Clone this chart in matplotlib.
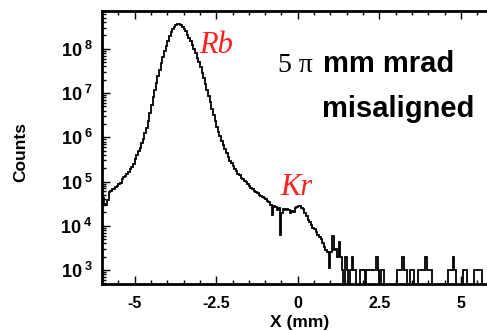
import numpy as np
import matplotlib
matplotlib.use("Agg")
import matplotlib.pyplot as plt
from matplotlib.ticker import FixedLocator, FuncFormatter, LogLocator, MultipleLocator

# histogram: first bin edge and bin width (mm)
x_lo = -6.0
x_step = 0.05
nan = float("nan")
# log10(counts) per bin, one row per mm (nan = empty bin)
log_counts = [
    # -6 .. -5
    4.62, 4.50, 4.47, 4.58, 4.76, 4.78, 4.82, 4.84, 4.87, 4.90,
    4.95, 4.97, 5.05, 5.10, 5.12, 5.18, 5.22, 5.28, 5.33, 5.40,
    # -5 .. -4
    5.50, 5.59, 5.68, 5.76, 5.87, 5.97, 6.09, 6.22, 6.37, 6.55,
    6.73, 6.90, 7.06, 7.22, 7.38, 7.53, 7.67, 7.81, 7.95, 8.07,
    # -4 .. -3
    8.18, 8.28, 8.37, 8.44, 8.50, 8.54, 8.56, 8.56, 8.53, 8.50,
    8.45, 8.39, 8.32, 8.25, 8.17, 8.09, 8.00, 7.90, 7.80, 7.69,
    # -3 .. -2
    7.58, 7.46, 7.33, 7.20, 7.07, 6.93, 6.79, 6.64, 6.50, 6.36,
    6.23, 6.12, 6.02, 5.92, 5.82, 5.73, 5.64, 5.55, 5.47, 5.41,
    # -2 .. -1
    5.35, 5.29, 5.23, 5.18, 5.14, 5.09, 5.05, 5.01, 4.98, 4.95,
    4.91, 4.86, 4.82, 4.79, 4.76, 4.73, 4.70, 4.68, 4.65, 4.62,
    # -1 .. 0
    4.60, 4.56, 4.53, 4.48, 4.25, 4.45, 4.42, 4.36, 4.40, 3.80,
    4.30, 4.38, 4.35, 4.38, 4.36, 4.30, 4.34, 4.32, 4.40, 4.42,
    # 0 .. 1
    4.45, 4.44, 4.40, 4.38, 4.30, 4.22, 4.12, 4.08, 4.02, 3.96,
    3.92, 3.85, 3.80, 3.74, 3.70, 3.62, 3.52, 3.46, 3.40, 3.05,
    # 1 .. 2
    3.40, 3.76, 3.45, 3.47, 3.30, 3.63, 3.30, 3.00, nan, 3.30,
    3.00, nan, 3.00, 3.30, 3.00, 3.00, nan, nan, 3.00, 3.00,
    # 2 .. 3
    3.00, nan, 3.00, 3.00, 3.00, 3.00, 3.00, 3.00, 3.30, 3.00,
    nan, 3.00, 3.00, nan, nan, nan, nan, nan, nan, nan,
    # 3 .. 4
    nan, 3.00, 3.00, 3.00, 3.30, 3.00, 3.00, nan, nan, 3.00,
    3.00, nan, nan, nan, 3.00, 3.00, 3.00, 3.00, 3.30, 3.00,
    # 4 .. 5
    3.00, 3.00, nan, nan, nan, nan, nan, nan, nan, nan,
    nan, nan, 3.00, 3.00, 3.00, 3.30, 3.00, nan, nan, nan,
    # 5 .. 5.8
    nan, 3.00, 3.00, 3.00, nan, nan, nan, nan, 3.00, 3.00,
    3.00, 3.00, 3.00, nan, nan, nan,
]
x_ticks = [-5, -2.5, 0, 2.5, 5]
x_ticklabels = ["-5", "-2.5", "0", "2.5", "5"]
y_exponents = [3, 4, 5, 6, 7, 8]

plt.rcParams["font.family"] = ["Liberation Sans", "DejaVu Sans"]
plt.rcParams["mathtext.fontset"] = "custom"
plt.rcParams["mathtext.rm"] = "Liberation Sans"
plt.rcParams["mathtext.bf"] = "Liberation Sans:bold"

counts = 10.0 ** np.array(log_counts)
edges = x_lo + x_step * np.arange(len(counts) + 1)
# empty bins drop below the axis, like in the original plot
plotted = np.where(np.isnan(counts), 1.0, counts)

fig = plt.figure(figsize=(4.87, 3.31), dpi=100)
ax = fig.add_axes([102 / 487, 47 / 331, 385 / 487, 273 / 331])

ax.stairs(plotted, edges, color="black", linewidth=1.3, baseline=None)

ax.set_yscale("log")
ax.set_xlim(x_lo, 5.8)
ax.set_ylim(4.85e2, 7.1e8)

ax.xaxis.set_major_locator(FixedLocator(x_ticks))
ax.set_xticklabels(x_ticklabels)
ax.xaxis.set_minor_locator(MultipleLocator(0.5))
ax.yaxis.set_major_locator(FixedLocator([10.0 ** e for e in y_exponents]))
ax.yaxis.set_minor_locator(LogLocator(base=10, subs=np.arange(2, 10)))
ax.yaxis.set_major_formatter(
    FuncFormatter(lambda v, p: r"$\mathbf{10^{\;%d}}$" % round(np.log10(v)))
)

for s in ["left", "bottom", "top"]:
    ax.spines[s].set_linewidth(2.0)
ax.spines["right"].set_visible(False)

ax.tick_params(which="both", direction="in", top=True, right=False, width=1.0)
ax.tick_params(which="major", length=6)
ax.tick_params(which="minor", length=3)
ax.tick_params(axis="y", which="major", pad=6.5, labelsize=13)
ax.tick_params(axis="x", which="major", pad=9, labelsize=11.5)
for lab in ax.get_xticklabels():
    lab.set_fontweight("bold")

# axis titles
fig.text(21 / 487, 1 - 152 / 331, "Counts", rotation=90, ha="center", va="center",
         fontsize=12.5, fontweight="bold")
fig.text(300 / 487, 1 - 322 / 331, "X (mm)", ha="center", va="center",
         fontsize=12.5, fontweight="bold")

# annotations
ax.text(0.296, 0.872, "Rb", transform=ax.transAxes, ha="center", va="center",
        fontsize=22, color="#ff2020", style="italic", family="Liberation Serif")
ax.text(0.506, 0.354, "Kr", transform=ax.transAxes, ha="center", va="center",
        fontsize=22, color="#ff2020", style="italic", family="Liberation Serif")
ax.text((278 - 102) / 385, (284 - 72) / 273, "5 \u03c0", transform=ax.transAxes,
        ha="left", va="baseline", fontsize=20, family="Liberation Serif")
ax.text((323 - 102) / 385, (284 - 72) / 273, "mm mrad", transform=ax.transAxes,
        ha="left", va="baseline", fontsize=21, fontweight="bold")
ax.text((322 - 102) / 385, (284 - 117) / 273, "misaligned", transform=ax.transAxes,
        ha="left", va="baseline", fontsize=21, fontweight="bold")

fig.savefig("out.png", dpi=100)
